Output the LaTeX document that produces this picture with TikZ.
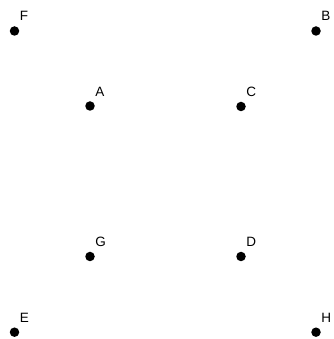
\documentclass[tikz,border=0pt]{standalone}
\usepackage{fontspec}
\setmainfont{Liberation Sans}
\begin{document}
\begin{tikzpicture}[x=1pt,y=1pt,
  dot/.style={circle,fill=black,inner sep=0pt,minimum size=9.5pt},
  lbl/.style={anchor=base west,inner sep=0pt,font=\fontsize{13.5}{14}\selectfont}]
\useasboundingbox (0,0) rectangle (333,339);
\node[dot] (F) at (14.5,308) {};
\node[dot] (B) at (316,308) {};
\node[dot] (A) at (90,233) {};
\node[dot] (C) at (241,232.5) {};
\node[dot] (G) at (90,82.5) {};
\node[dot] (D) at (241,82.5) {};
\node[dot] (E) at (14.5,6.8) {};
\node[dot] (H) at (316,6.8) {};
\path (F) ++(5.2,10) node[lbl] (Fl) {F};
\path (B) ++(5.2,10) node[lbl] (Bl) {B};
\path (A) ++(5.2,9) node[lbl] (Al) {A};
\path (C) ++(5.2,9.5) node[lbl] (Cl) {C};
\path (G) ++(5.2,9.5) node[lbl] (Gl) {G};
\path (D) ++(5.2,9.5) node[lbl] (Dl) {D};
\path (E) ++(5.2,9.5) node[lbl] (El) {E};
\path (H) ++(5.2,9.5) node[lbl] (Hl) {H};
\end{tikzpicture}
\end{document}
